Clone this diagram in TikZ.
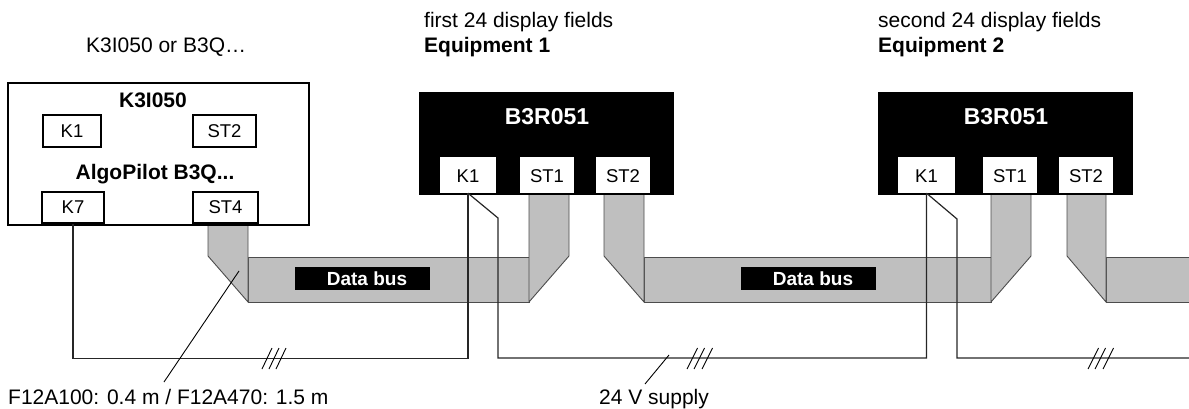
\documentclass[tikz,border=0pt]{standalone}
\usepackage{fontspec}
\setmainfont{Liberation Sans}
\usepackage{tikz}
\usetikzlibrary{positioning,calc}

\begin{document}
\begin{tikzpicture}[
    x=1pt, y=-1pt,
    note/.style={font=\fontsize{21}{25}\selectfont, inner sep=0pt, anchor=base west},
    heading/.style={font=\fontsize{21}{25}\selectfont\bfseries, inner sep=0pt, anchor=base west},
    title/.style={font=\fontsize{21}{25}\selectfont\bfseries, inner sep=0pt, anchor=base},
    devname/.style={font=\fontsize{23}{27}\selectfont\bfseries, text=white, inner sep=0pt, anchor=base},
    port/.style={draw=black, fill=white, line width=1.3pt, font=\fontsize{18.5}{22}\selectfont, inner sep=0pt},
    slot/.style={fill=white, font=\fontsize{18.5}{22}\selectfont, inner sep=0pt, minimum height=36pt, text height=15pt},
    device/.style={fill=black, inner sep=0pt, minimum width=255pt, minimum height=103pt},
    buslabel/.style={fill=black, text=white, font=\fontsize{19}{22}\selectfont\bfseries, inner sep=0pt, minimum width=135pt, minimum height=23pt},
    cable/.style={fill=gray!50!white, draw=black!70, line width=0.9pt},
    wire/.style={draw=black!85, line width=1.2pt},
    tick/.style={draw=black, line width=0.9pt}
]
\useasboundingbox (0,0) rectangle (1189,409);

% Ribbon cables
\draw[cable] (248,257) -- (529,257) -- (529,302) -- (248,302) -- cycle;
\draw[cable] (644,257) -- (991,257) -- (991,302) -- (644,302) -- cycle;
\fill[gray!50!white] (1106,257) rectangle (1189,302);
\draw[cable] (1189,257) -- (1106,257) -- (1106,302) -- (1189,302);
\draw[cable] (208,225) -- (248,225) -- (248,302) -- (208,256) -- cycle;
\draw[cable] (529,194) -- (569,194) -- (569,256) -- (529,302) -- cycle;
\draw[cable] (604,194) -- (644,194) -- (644,302) -- (604,256) -- cycle;
\draw[cable] (991,194) -- (1031,194) -- (1031,256) -- (991,302) -- cycle;
\draw[cable] (1067,194) -- (1106,194) -- (1106,302) -- (1067,256) -- cycle;

% Control unit
\node[draw=black, fill=white, line width=2pt, inner sep=0pt, minimum width=301pt, minimum height=142pt] (unit) at (158.5,154) {};
\node[title] (unittitle) at (153,108) {K3I050};
\node[title] (algotitle) at (155,179) {AlgoPilot B3Q...};
\node[port, minimum width=58pt, minimum height=32pt] (uk1) at (72,131) {K1};
\node[port, minimum width=63pt, minimum height=32pt] (ust2) at (224.5,131) {ST2};
\node[port, minimum width=62pt, minimum height=31pt] (uk7) at (73,207.5) {K7};
\node[port, line width=1.7pt, minimum width=65pt, minimum height=31pt] (ust4) at (225.5,207.5) {ST4};

% Equipment 1
\node[device] (dev1) at (546.5,143.5) {};
\node[devname] (dev1name) at (547,125) {B3R051};
\node[slot, minimum width=56pt] (d1k1) at (468,175) {K1};
\node[slot, minimum width=54pt] (d1st1) at (547,175) {ST1};
\node[slot, minimum width=54pt] (d1st2) at (623,175) {ST2};

% Equipment 2
\node[device] (dev2) at (1005,143.5) {};
\node[devname] (dev2name) at (1006,125) {B3R051};
\node[slot, minimum width=57pt] (d2k1) at (926.5,175) {K1};
\node[slot, minimum width=54pt] (d2st1) at (1010,175) {ST1};
\node[slot, minimum width=54pt] (d2st2) at (1086,175) {ST2};

\node[buslabel] (bus1) at (362.5,278.5) {\hspace*{9pt}Data bus};
\node[buslabel] (bus2) at (808.5,278.5) {\hspace*{9pt}Data bus};

% Supply line
\coordinate (c1) at (498,218);
\coordinate (c2) at (957,219);
\coordinate (cend) at (1189,358);
\draw[wire] (uk7.south) -- ++(0,135) -| (d1k1.south);
\draw[wire] (d1k1.south) -- (c1) -- ++(0,140) -| (d2k1.south);
\draw[wire] (d2k1.south) -- (c2) |- (cend);

% Slashes
\foreach \tx in {262,269,276} \draw[tick] (\tx,369) -- ++(10,-21);
\foreach \tx in {687,694,702} \draw[tick] (\tx,369) -- ++(10.5,-21);
\foreach \tx in {1088,1095,1103} \draw[tick] (\tx,369) -- ++(10.5,-21);

% Labels
\node[note] (toplabel) at (86,53) {K3I050 or B3Q…};
\node[note] (field1) at (424,28) {first 24 display fields};
\node[heading] (equip1) at (424,53) {Equipment 1};
\node[note] (field2) at (878,28) {second 24 display fields};
\node[heading] (equip2) at (878,53) {Equipment 2};
\node[note] (lenlabel) at (8,404) {F12A100: 0.4 m / F12A470: 1.5 m};
\node[note] (supplylabel) at (599,404) {24 V supply};

% Leaders
\coordinate (lead1) at (239,271);
\coordinate (lead2) at (669,355);
\draw[tick] (lead1) -- (164,382);
\draw[tick] (lead2) -- (645,384);
\end{tikzpicture}
\end{document}
